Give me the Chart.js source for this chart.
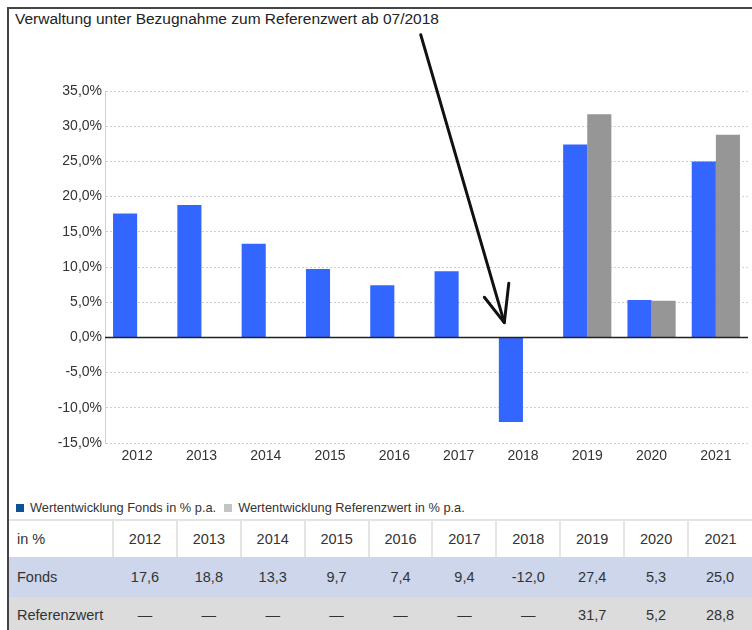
<!DOCTYPE html>
<html><head><meta charset="utf-8">
<script src="https://cdn.jsdelivr.net/npm/chart.js@4"></script>
<style>
html,body{margin:0;padding:0;background:#fff;}
body{width:752px;height:630px;position:relative;overflow:hidden;font-family:"Liberation Sans",Arial,sans-serif;color:#333;}
#frameTop{position:absolute;left:7px;top:7px;width:745px;height:2px;background:#444;}
#frameLeft{position:absolute;left:7px;top:7px;width:2px;height:623px;background:#444;}
#title{position:absolute;left:15px;top:10px;font-size:15.5px;color:#222;white-space:nowrap;}
#wrap{position:absolute;left:9px;top:9px;width:743px;height:470px;}
#legend{position:absolute;left:16px;top:500px;font-size:12.8px;color:#333;white-space:nowrap;}
#legend span.sq{display:inline-block;width:8px;height:8px;margin-right:6px;vertical-align:0px;}
#legend span.it{margin-right:8px;}
table{position:absolute;left:9px;top:519px;width:743px;border-collapse:collapse;table-layout:fixed;font-size:14.5px;color:#333;}
td{padding:0;text-align:center;border-left:2px solid #e4e4e4;}
td:first-child{text-align:left;padding-left:8px;border-left:none;}
tr.h td{background:#fff;border-top:2px solid #e4e4e4;height:36px;}
tr.f td{background:#cdd6ea;border-left:none;height:40px;}
tr.r td{background:#dcdcdc;border-left:none;height:36px;}
</style></head><body>
<div id="frameTop"></div><div id="frameLeft"></div>
<div id="title"></div>
<div id="wrap"><canvas id="c"></canvas></div>
<div id="legend"></div>
<table id="tbl"></table>
<script>
const years = ['2012','2013','2014','2015','2016','2017','2018','2019','2020','2021'];
const fonds = [17.6, 18.8, 13.3, 9.7, 7.4, 9.4, -12.0, 27.4, 5.3, 25.0];
const referenz = [null, null, null, null, null, null, null, 31.7, 5.2, 28.8];
const seriesNames = ['Wertentwicklung Fonds in % p.a.', 'Wertentwicklung Referenzwert in % p.a.'];
const rowNames = ['Fonds', 'Referenzwert'];
const titleText = 'Verwaltung unter Bezugnahme zum Referenzwert ab 07/2018';
// arrow annotation in data coordinates: [categoryIndex, value]
const arrowStart = [4.41, 43.0];
const arrowTip = [5.71, 2.1];
const arrowLeftArm = [5.40, 5.7];
const arrowRightArm = [5.78, 7.7];

document.getElementById('title').textContent = titleText;
const fmt = v => v.toFixed(1).replace('.', ',');

const arrowPlugin = {
  id: 'arrow',
  afterDraw(chart) {
    const xs = chart.scales.x, ys = chart.scales.y, ctx = chart.ctx;
    const p = a => [xs.getPixelForValue(a[0]), ys.getPixelForValue(a[1])];
    const s = p(arrowStart), t = p(arrowTip), l = p(arrowLeftArm), r = p(arrowRightArm);
    ctx.save();
    ctx.strokeStyle = '#111'; ctx.lineWidth = 3; ctx.lineCap = 'round'; ctx.lineJoin = 'round';
    ctx.beginPath(); ctx.moveTo(s[0], s[1]); ctx.lineTo(t[0], t[1]); ctx.stroke();
    ctx.beginPath(); ctx.moveTo(l[0], l[1]); ctx.lineTo(t[0], t[1]); ctx.lineTo(r[0], r[1]); ctx.stroke();
    ctx.restore();
  }
};
const zeroPlugin = {
  id: 'zero',
  afterDatasetsDraw(chart) {
    const ys = chart.scales.y, a = chart.chartArea, ctx = chart.ctx;
    const y = Math.round(ys.getPixelForValue(0)) + 0.5;
    ctx.save(); ctx.strokeStyle = '#222'; ctx.lineWidth = 1.5;
    ctx.beginPath(); ctx.moveTo(a.left, y); ctx.lineTo(a.right, y); ctx.stroke(); ctx.restore();
  }
};

new Chart(document.getElementById('c'), {
  type: 'bar',
  data: {
    labels: years,
    datasets: [
      { label: seriesNames[0], data: fonds, backgroundColor: '#3366ff', borderWidth: 0 },
      { label: seriesNames[1], data: referenz, backgroundColor: '#969696', borderWidth: 0 }
    ]
  },
  options: {
    responsive: true, maintainAspectRatio: false, animation: false,
    datasets: { bar: { categoryPercentage: 0.75, barPercentage: 1.0 } },
    layout: { padding: { top: 82, right: 4, left: 0, bottom: 0 } },
    plugins: { legend: { display: false }, tooltip: { enabled: false }, title: { display: false } },
    scales: {
      x: {
        grid: { display: false, drawTicks: false },
        border: { display: false },
        ticks: { color: '#333', font: { family: 'Liberation Sans', size: 14 }, padding: 5, maxRotation: 0 },
        afterFit: s => { s.height = 36; }
      },
      y: {
        min: -15, max: 35,
        ticks: { stepSize: 5, color: '#333', font: { family: 'Liberation Sans', size: 14 }, padding: 3,
                 callback: v => fmt(v) + '%' },
        grid: { color: '#cfcfcf', drawTicks: false },
        border: { display: true, color: '#cfcfcf', dash: [2, 2] },
        afterFit: s => { s.width = 96; }
      }
    }
  },
  plugins: [zeroPlugin, arrowPlugin]
});

// legend
const lg = document.getElementById('legend');
const legendColors = ['#0b5394', '#c4c4c4'];
seriesNames.forEach((n, i) => {
  const it = document.createElement('span'); it.className = 'it';
  it.innerHTML = '<span class="sq" style="background:' + legendColors[i] + '"></span>' + n;
  lg.appendChild(it);
});

// table
const tbl = document.getElementById('tbl');
const cg = document.createElement('colgroup');
cg.innerHTML = '<col style="width:104px">' + years.map(() => '<col>').join('');
tbl.appendChild(cg);
const mk = (cls, first, vals) => {
  const tr = document.createElement('tr'); tr.className = cls;
  tr.innerHTML = '<td>' + first + '</td>' + vals.map(v => '<td>' + v + '</td>').join('');
  tbl.appendChild(tr);
};
mk('h', 'in %', years);
mk('f', rowNames[0], fonds.map(fmt));
mk('r', rowNames[1], referenz.map(v => v === null ? '—' : fmt(v)));
</script>
</body></html>
